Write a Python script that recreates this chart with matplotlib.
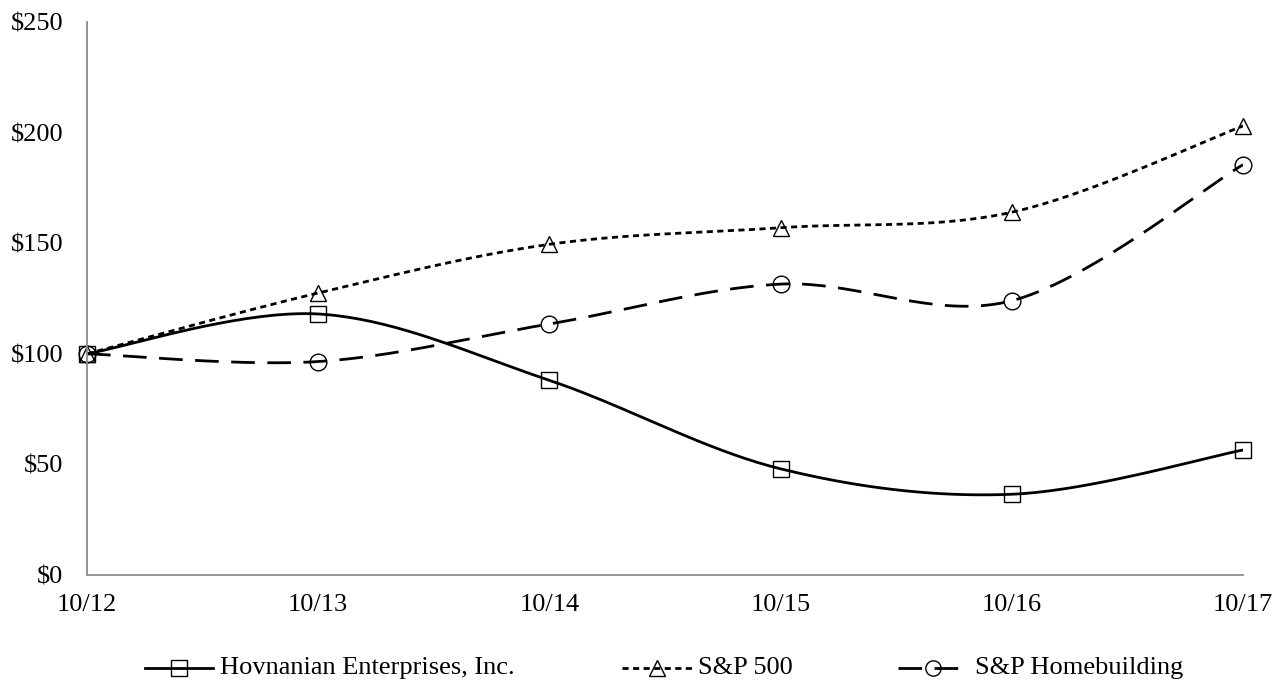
import matplotlib
matplotlib.use("Agg")
import matplotlib.pyplot as plt
from matplotlib.lines import Line2D
import numpy as np

plt.rcParams['font.family'] = ['Liberation Serif', 'DejaVu Serif']

categories = ["10/12", "10/13", "10/14", "10/15", "10/16", "10/17"]
hovnanian = [100, 118, 88, 48, 36.5, 56.5]
sp500 = [100, 127.5, 149.5, 157, 164, 203]
homebuilding = [100, 96.5, 113.5, 131.5, 124, 185.5]
yticks = [0, 50, 100, 150, 200, 250]


def smooth(xs, ys, n=40):
    P = np.column_stack([xs, ys]).astype(float)
    P_ext = np.vstack([P[0], P, P[-1]])
    out = []
    t = np.linspace(0, 1, n)[:, None]
    for i in range(len(P) - 1):
        p0, p1, p2, p3 = P_ext[i], P_ext[i + 1], P_ext[i + 2], P_ext[i + 3]
        c1 = p1 + (p2 - p0) / 6
        c2 = p2 - (p3 - p1) / 6
        seg = ((1 - t) ** 3) * p1 + 3 * ((1 - t) ** 2) * t * c1 + 3 * (1 - t) * t ** 2 * c2 + t ** 3 * p2
        out.append(seg if i == 0 else seg[1:])
    s = np.vstack(out)
    return s[:, 0], s[:, 1]


SHORT = (0, (2.2, 1.6))
LONG = (0, (8.5, 4.5))

fig = plt.figure(figsize=(12.84, 6.85), dpi=100)
ax = fig.add_axes([87 / 1284, 1 - 575 / 685, (1243 - 87) / 1284, (575 - 22) / 685])

x = np.arange(len(categories))
series = [
    (hovnanian, '-', 's', 12),
    (sp500, SHORT, '^', 11),
    (homebuilding, LONG, 'o', 12),
]
for ys, ls, mk, ms in series:
    sx, sy = smooth(x, ys)
    ax.plot(sx, sy, color='black', linestyle=ls, linewidth=2.0)
    ax.plot(x, ys, linestyle='none', marker=mk, markersize=ms, markerfacecolor='none',
            markeredgecolor='black', markeredgewidth=1.0, clip_on=False)

ax.set_xlim(0, 5)
ax.set_ylim(0, 250)
ax.set_xticks(x)
ax.set_xticklabels(categories)
ax.set_yticks(yticks)
ax.set_yticklabels([f"${v}" for v in yticks])
ax.tick_params(length=0, labelsize=19, colors='black')
ax.tick_params(axis='x', pad=14)
ax.tick_params(axis='y', pad=17)
for s in ['top', 'right']:
    ax.spines[s].set_visible(False)
for s in ['left', 'bottom']:
    ax.spines[s].set_color('#8c8c8c')
    ax.spines[s].set_linewidth(1.3)

# legend
ly = 1 - 668 / 685
items = [
    (145, 213, 220, '-', 's', "Hovnanian Enterprises, Inc."),
    (622, 692, 698, SHORT, '^', "S&P 500"),
    (898, 967, 975, LONG, 'o', "S&P Homebuilding"),
]
for x0, x1, xt, ls, mk, label in items:
    fig.add_artist(Line2D([x0 / 1284, x1 / 1284], [ly, ly], color='black', linestyle=ls,
                          linewidth=2.0, transform=fig.transFigure))
    fig.add_artist(Line2D([(x0 + x1) / 2 / 1284], [ly], marker=mk, markersize=11,
                          markerfacecolor='none', markeredgecolor='black', markeredgewidth=1.0,
                          linestyle='none', transform=fig.transFigure))
    fig.text(xt / 1284, ly, label, fontsize=19, va='center', ha='left')

fig.savefig("out.png", dpi=100)
